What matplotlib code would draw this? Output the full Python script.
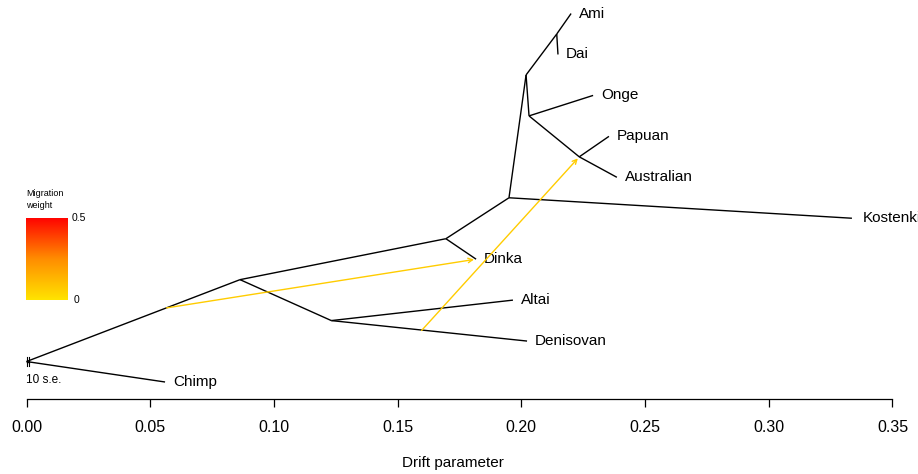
import matplotlib
matplotlib.use("Agg")
import matplotlib.pyplot as plt
from matplotlib.colors import LinearSegmentedColormap
import numpy as np

plt.rcParams['font.family'] = ['Liberation Sans', 'DejaVu Sans']

# ---- tree data (drift parameter x, vertical rank y) ----
node_names = ["root", "Chimp", "n1", "n2", "Altai", "Denisovan", "n3", "Dinka",
              "n4", "Kostenki", "n5", "n6", "Ami", "Dai", "n7", "Onge", "n8",
              "Papuan", "Australian"]
node_x = [0.0, 0.0560, 0.0863, 0.1232, 0.1966, 0.2023, 0.1695, 0.1817,
          0.1950, 0.3336, 0.2019, 0.2143, 0.2201, 0.2148, 0.2031, 0.2290, 0.2234,
          0.2354, 0.2386]
node_y = [0.5, 0.0, 2.5, 1.5, 2.0, 1.0, 3.5, 3.0,
          4.5, 4.0, 7.5, 8.5, 9.0, 8.0, 6.5, 7.0, 5.5,
          6.0, 5.0]
leaves = ["Chimp", "Altai", "Denisovan", "Dinka", "Kostenki", "Ami", "Dai",
          "Onge", "Papuan", "Australian"]
edge_parent = ["root", "root", "n1", "n2", "n2", "n1", "n3", "n3", "n4", "n4",
               "n5", "n6", "n6", "n5", "n7", "n7", "n8", "n8"]
edge_child = ["Chimp", "n1", "n2", "Altai", "Denisovan", "n3", "Dinka", "n4",
              "Kostenki", "n5", "n6", "Ami", "Dai", "n7", "Onge", "n8",
              "Papuan", "Australian"]

# migration edges: source point (x, y) -> target node, weight
mig_src_x = [0.0566, 0.1597]
mig_src_y = [1.81, 1.26]
mig_target = ["Dinka", "n8"]
mig_weight = [0.07, 0.07]

x_ticks = [0.00, 0.05, 0.10, 0.15, 0.20, 0.25, 0.30, 0.35]

pos = {n: (x, y) for n, x, y in zip(node_names, node_x, node_y)}

W, H = 918, 474
fig = plt.figure(figsize=(W / 100, H / 100), dpi=100)
px_per_y = 40.94
y_bottom = -(398.5 - 382) / px_per_y
y_top = 382 / px_per_y
ax = fig.add_axes([26.5 / W, (H - 398.5) / H, 866 / W, 398.5 / H])
ax.set_xlim(0, 0.35)
ax.set_ylim(y_bottom, y_top)
for s in ["top", "right", "left"]:
    ax.spines[s].set_visible(False)
ax.spines["bottom"].set_linewidth(0.9)
ax.set_yticks([])
ax.set_xticks(x_ticks)
ax.set_xticklabels([f"{t:.2f}" for t in x_ticks], fontsize=11.5)
ax.tick_params(axis="x", direction="out", length=6, width=0.9, pad=9.5)
ax.patch.set_alpha(0)

# tree edges
for p, c in zip(edge_parent, edge_child):
    x0, y0 = pos[p]
    x1, y1 = pos[c]
    ax.plot([x0, x1], [y0, y1], color="black", lw=1.0, solid_capstyle="butt",
            clip_on=False)

# leaf labels
for lf in leaves:
    x, y = pos[lf]
    off = 0.0045 if lf == "Kostenki" else 0.0032
    ax.text(x + off, y, lf, fontsize=11, va="center", ha="left", clip_on=False)

# migration color map
cmap = LinearSegmentedColormap.from_list("mig", ["#FFE400", "#FF8C00", "#FF0000"])

for sx, sy, tgt, w in zip(mig_src_x, mig_src_y, mig_target, mig_weight):
    tx, ty = pos[tgt]
    col = cmap(w / 0.5)
    ax.annotate("", xy=(tx, ty), xytext=(sx, sy),
                arrowprops=dict(arrowstyle="->", color=col, lw=1.0,
                                shrinkA=0, shrinkB=1.5, mutation_scale=8),
                annotation_clip=False)

# scale bar near root (10 s.e.)
rx, ry = pos["root"]
ax.plot([rx, rx + 0.0012], [ry, ry], color="black", lw=1.0, clip_on=False)
for xx in [rx, rx + 0.0012]:
    ax.plot([xx, xx], [ry - 0.1, ry + 0.1], color="black", lw=0.8, clip_on=False)
ax.text(0.0, ry - 0.45, "10 s.e.", fontsize=8.5, va="center", ha="left")

# legend gradient
lax = fig.add_axes([26 / W, (H - 300) / H, 42 / W, 82 / H])
grad = np.linspace(0, 1, 256).reshape(-1, 1)
lax.imshow(grad, aspect="auto", cmap=cmap, origin="lower")
lax.set_axis_off()
fig.text(26 / W, (H - 194) / H, "Migration", fontsize=6.5, va="center", ha="left")
fig.text(26 / W, (H - 206) / H, "weight", fontsize=6.5, va="center", ha="left")
fig.text(72 / W, (H - 218) / H, "0.5", fontsize=7.5, va="center", ha="left")
fig.text(74 / W, (H - 300) / H, "0", fontsize=7.5, va="center", ha="left")

fig.text(453 / W, (H - 463) / H, "Drift parameter", fontsize=11, ha="center",
         va="center")

fig.savefig("out.png", dpi=100)
